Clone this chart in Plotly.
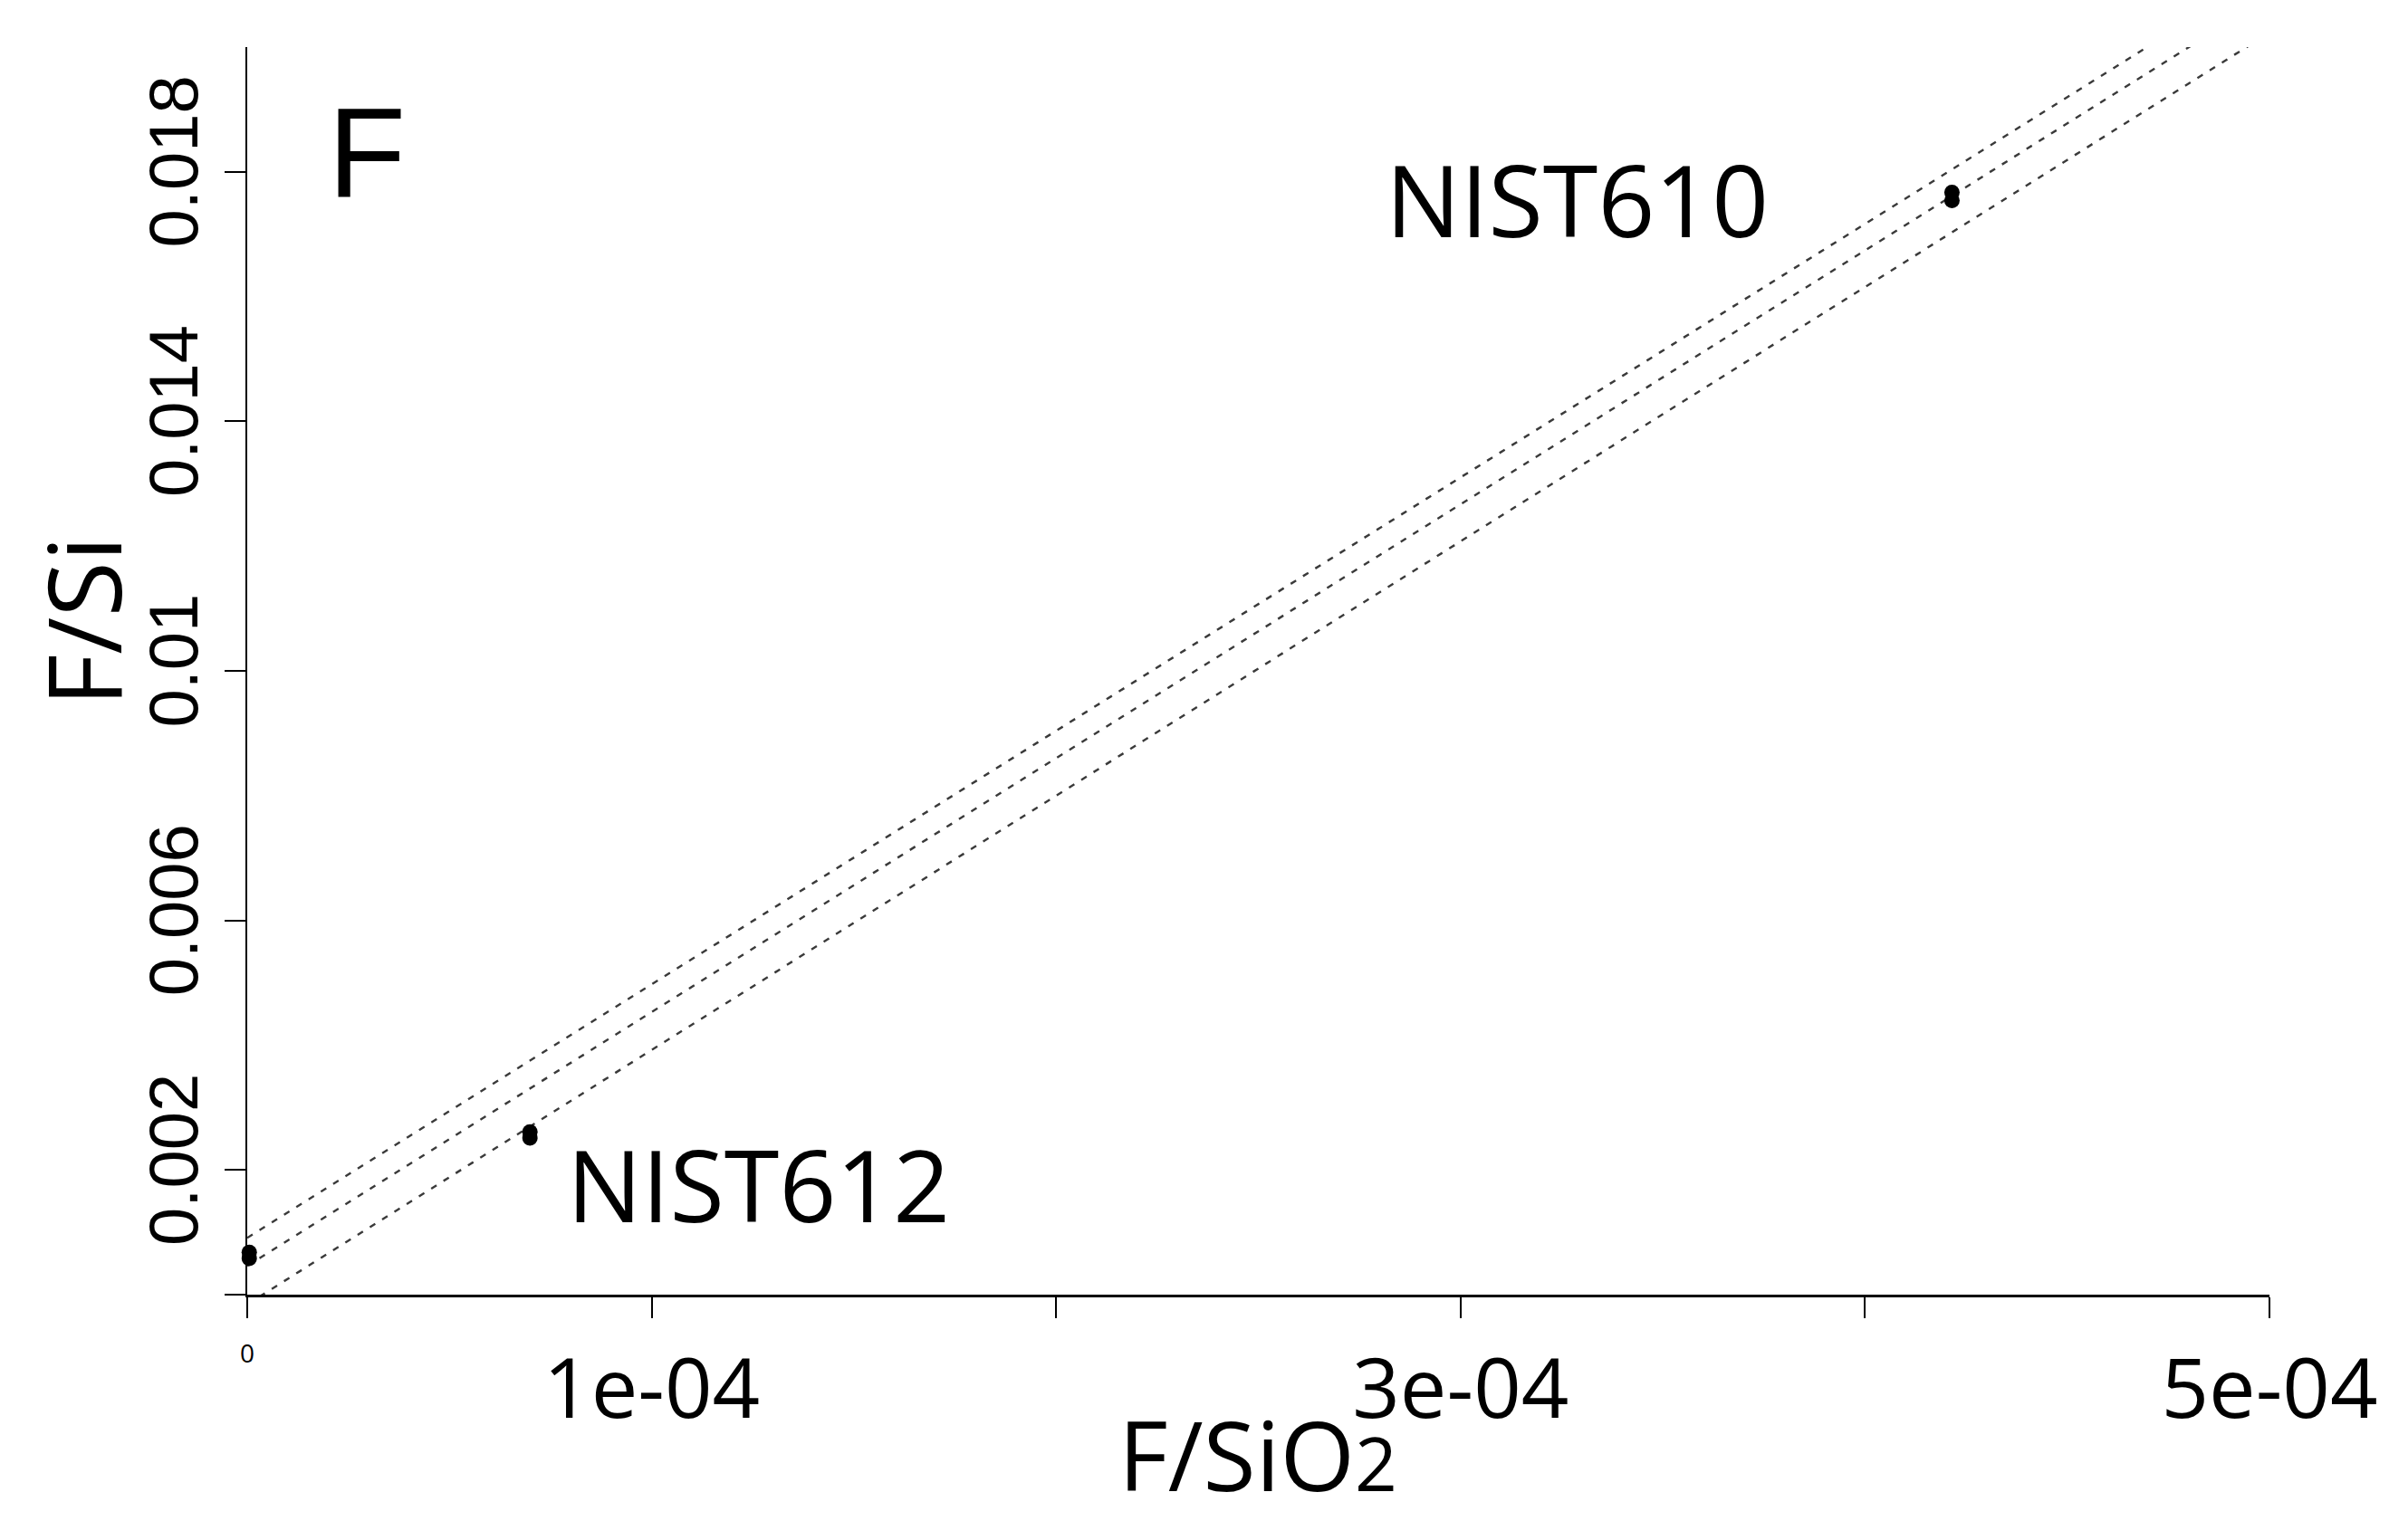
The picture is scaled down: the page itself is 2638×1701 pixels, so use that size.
import plotly.graph_objects as go

# ---- data ----
blank_x = [5e-7, 5e-7]
blank_y = [0.00068, 0.00058]
nist612_x = [6.99e-5, 6.99e-5]
nist612_y = [0.00261, 0.00251]
nist610_x = [4.215e-4, 4.215e-4]
nist610_y = [0.01767, 0.01754]

# regression line and band end points (x = 0 and x = 5e-4)
line_x = [0.0, 5e-4]
upper_y = [0.00091, 0.02123]
mid_y = [0.00046, 0.02081]
lower_y = [-0.000155, 0.02023]

x_tickvals = [0, 1e-4, 2e-4, 3e-4, 4e-4, 5e-4]
x_ticktext = ["", "1e-04", "", "3e-04", "", "5e-04"]
y_tickvals = [0, 0.002, 0.006, 0.01, 0.014, 0.018]
y_ticktext = ["", "0.002", "0.006", "0.01", "0.014", "0.018"]

fig = go.Figure()
for ys in (upper_y, mid_y, lower_y):
    fig.add_trace(go.Scatter(x=line_x, y=ys, mode="lines",
                             line=dict(color="#3a3a3a", width=2.4, dash="7px,9px"),
                             hoverinfo="skip", showlegend=False))
for xs, ys in ((blank_x, blank_y), (nist612_x, nist612_y), (nist610_x, nist610_y)):
    fig.add_trace(go.Scatter(x=xs, y=ys, mode="markers",
                             marker=dict(color="black", size=17),
                             cliponaxis=False, showlegend=False))

fig.update_layout(
    width=2638, height=1701,
    margin=dict(l=273, r=126, t=52, b=271),
    paper_bgcolor="white", plot_bgcolor="white",
    showlegend=False,
)
fig.update_xaxes(range=[0, 5e-4], showgrid=False, zeroline=False,
                 showline=True, linecolor="black", linewidth=3,
                 ticks="outside", ticklen=23, tickwidth=2, tickcolor="black",
                 tickvals=x_tickvals, ticktext=x_ticktext,
                 tickfont=dict(family="Open Sans", size=92, color="black"))
fig.update_yaxes(range=[0, 0.02], showgrid=False, zeroline=False,
                 showline=True, linecolor="black", linewidth=2,
                 ticks="outside", ticklen=23, tickwidth=2, tickcolor="black",
                 tickvals=y_tickvals, ticktext=y_ticktext, tickangle=-90,
                 tickfont=dict(family="Liberation Sans", size=76, color="black"))

# small "0" label at x = 0
fig.add_annotation(x=0, y=0, xref="x", yref="y", text="0", showarrow=False,
                   yshift=-64, font=dict(family="Open Sans", size=28, color="black"))
# panel letter
fig.add_annotation(x=(405 - 273) / 2239, y=(1430 - 168) / 1378, xref="paper", yref="paper",
                   text="F", showarrow=False, xanchor="center", yanchor="middle",
                   font=dict(family="Liberation Sans", size=141, color="black"))
# sample labels
fig.add_annotation(x=3.289e-4, y=0.01758, xref="x", yref="y", text="NIST610",
                   showarrow=False, xanchor="center", yanchor="middle",
                   font=dict(family="Open Sans", size=110, color="black"))
fig.add_annotation(x=1.264e-4, y=0.001785, xref="x", yref="y", text="NIST612",
                   showarrow=False, xanchor="center", yanchor="middle",
                   font=dict(family="Open Sans", size=110, color="black"))
# axis titles
fig.add_annotation(x=(1392 - 273) / 2239, y=(1430 - 1606) / 1378, xref="paper", yref="paper",
                   text="F/SiO<span style='font-size:82px'>2</span>", showarrow=False,
                   xanchor="center", yanchor="middle",
                   font=dict(family="Open Sans", size=106, color="black"))
fig.add_annotation(x=(91 - 273) / 2239, y=(1430 - 686) / 1378, xref="paper", yref="paper",
                   text="F/Si", showarrow=False, textangle=-90,
                   xanchor="center", yanchor="middle",
                   font=dict(family="Open Sans", size=112, color="black"))

fig.write_html("out.html")
